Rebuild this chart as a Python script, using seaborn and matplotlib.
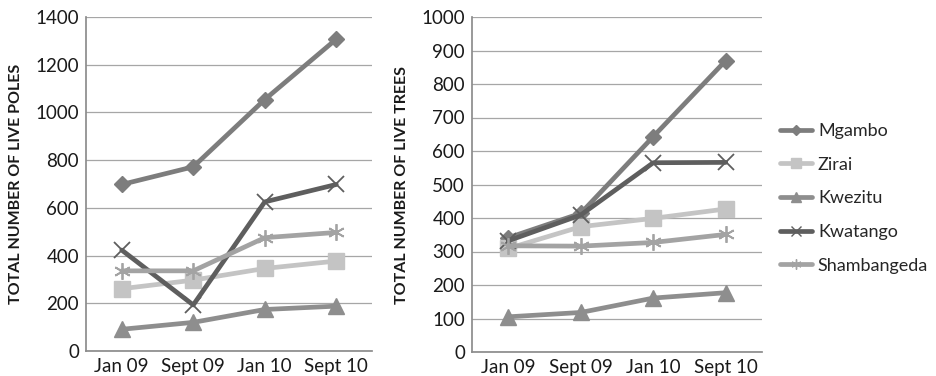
import matplotlib
matplotlib.use("Agg")
import matplotlib.pyplot as plt
from matplotlib.lines import Line2D
import seaborn as sns
import pandas as pd

periods = ["Jan 09", "Sept 09", "Jan 10", "Sept 10"]
sites = ["Mgambo", "Zirai", "Kwezitu", "Kwatango", "Shambangeda"]

poles_mgambo = [698, 772, 1054, 1307]
poles_zirai = [261, 297, 346, 377]
poles_kwezitu = [91, 120, 174, 188]
poles_kwatango = [423, 193, 625, 698]
poles_shambangeda = [336, 336, 475, 497]

trees_mgambo = [341, 414, 643, 870]
trees_zirai = [309, 374, 399, 427]
trees_kwezitu = [105, 118, 161, 177]
trees_kwatango = [332, 409, 565, 566]
trees_shambangeda = [317, 316, 327, 351]

colors = {"Mgambo": "#7d7d7d", "Zirai": "#c4c4c4", "Kwezitu": "#8e8e8e",
          "Kwatango": "#5e5e5e", "Shambangeda": "#a3a3a3"}
markers = {"Mgambo": "D", "Zirai": "s", "Kwezitu": "^",
           "Kwatango": "x", "Shambangeda": (6, 2, 0)}
msizes = {"Mgambo": 8, "Zirai": 11, "Kwezitu": 11, "Kwatango": 12, "Shambangeda": 12}


def long_frame(series):
    rows = []
    for site, vals in zip(sites, series):
        for p, v in zip(periods, vals):
            rows.append({"period": p, "site": site, "value": v})
    return pd.DataFrame(rows)


poles = long_frame([poles_mgambo, poles_zirai, poles_kwezitu, poles_kwatango, poles_shambangeda])
trees = long_frame([trees_mgambo, trees_zirai, trees_kwezitu, trees_kwatango, trees_shambangeda])

sns.set_theme(style="white")
plt.rcParams["font.family"] = ["Lato", "DejaVu Sans"]

fig = plt.figure(figsize=(9.37, 3.76), dpi=100)
ax1 = fig.add_axes([86 / 937, 25 / 376, 286 / 937, 334 / 376])
ax2 = fig.add_axes([472 / 937, 24 / 376, 290 / 937, 335 / 376])


def draw(ax, df, ymax, step, ylabel):
    for site in sites:
        sub = df[df["site"] == site]
        mk = markers[site]
        filled = mk not in ("x",) and not isinstance(mk, tuple)
        sns.lineplot(data=sub, x="period", y="value", ax=ax, color=colors[site],
                     linewidth=3.4, marker=mk, markersize=msizes[site],
                     markeredgewidth=1.0 if filled else 1.3,
                     markeredgecolor=colors[site],
                     markerfacecolor=colors[site], legend=False, sort=False)
    ax.set_xlim(-0.5, 3.5)
    ax.set_ylim(0, ymax)
    ax.set_yticks(range(0, ymax + 1, step))
    ax.yaxis.grid(True, color="#a6a6a6", linewidth=0.9)
    ax.xaxis.grid(False)
    ax.set_axisbelow(True)
    for side in ("top", "right"):
        ax.spines[side].set_visible(False)
    ax.spines["left"].set_color("#8c8c8c")
    ax.spines["bottom"].set_color("#8c8c8c")
    ax.tick_params(axis="both", labelsize=13.5, colors="#1a1a1a", length=0, pad=5)
    ax.set_xlabel("")
    ax.set_ylabel(ylabel, fontsize=11.5, fontweight="bold", color="#1a1a1a", labelpad=9)


draw(ax1, poles, 1400, 200, "TOTAL NUMBER OF LIVE POLES")
draw(ax2, trees, 1000, 100, "TOTAL NUMBER OF LIVE TREES")

handles = [Line2D([0], [0], color=colors[s], linewidth=3.4, marker=markers[s],
                  markersize=msizes[s] * 0.6, markerfacecolor=colors[s],
                  markeredgecolor=colors[s]) for s in sites]
fig.legend(handles, sites, loc="upper left", bbox_to_anchor=(780 / 937, 1 - 123 / 376),
           frameon=False, fontsize=13, handlelength=1.8, labelspacing=0.98,
           handletextpad=0.3, borderaxespad=0, borderpad=0)

fig.savefig("out.png", dpi=100)
